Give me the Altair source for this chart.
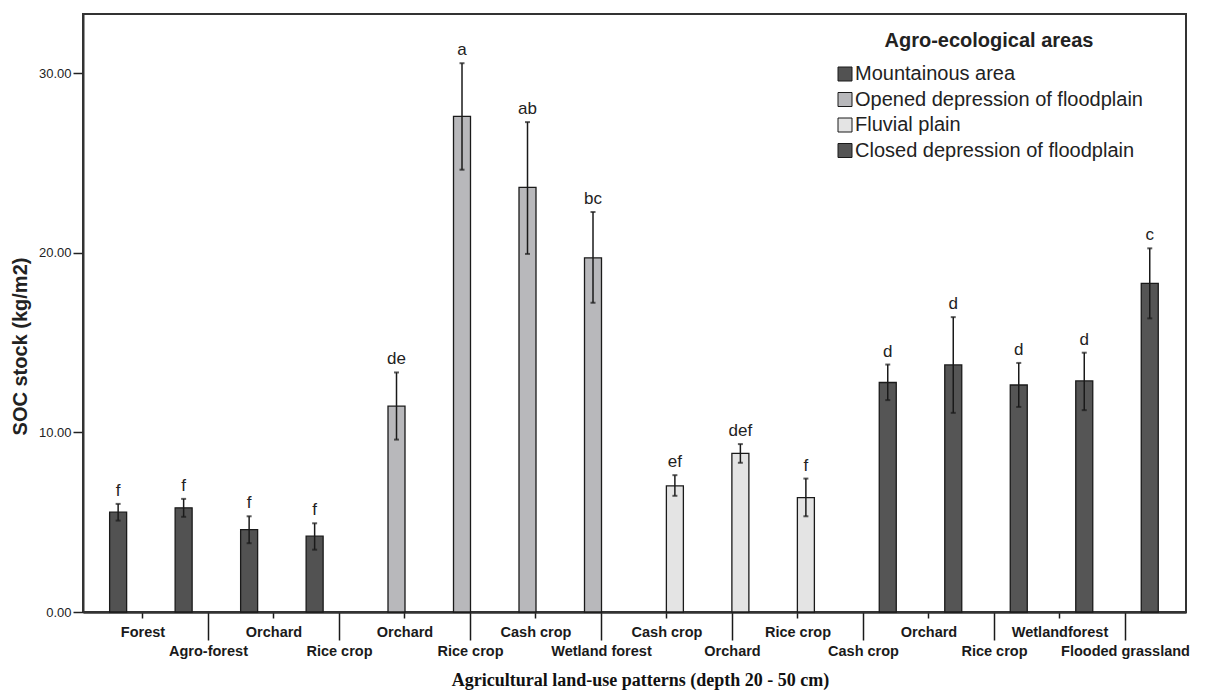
import altair as alt
import pandas as pd

# ---------------- data ----------------
areas = ["Mountainous area", "Opened depression of floodplain",
         "Fluvial plain", "Closed depression of floodplain"]
area_sizes = [4, 4, 3, 5]
land_uses = ["Forest", "Agro-forest", "Orchard", "Rice crop",
             "Orchard", "Rice crop", "Cash crop", "Wetland forest",
             "Cash crop", "Orchard", "Rice crop",
             "Cash crop", "Orchard", "Rice crop", "Wetlandforest", "Flooded grassland"]
soc_mean = [5.56, 5.80, 4.59, 4.22,
            11.46, 27.60, 23.65, 19.72,
            7.02, 8.83, 6.37,
            12.78, 13.76, 12.64, 12.87, 18.30]
err_low = [5.09, 5.30, 3.83, 3.47,
           9.60, 24.63, 19.94, 17.22,
           6.47, 8.31, 5.33,
           11.80, 11.09, 11.42, 11.24, 16.35]
err_high = [6.02, 6.30, 5.33, 4.94,
            13.34, 30.56, 27.28, 22.28,
            7.62, 9.35, 7.43,
            13.78, 16.42, 13.87, 14.44, 20.25]
letters = ["f", "f", "f", "f",
           "de", "a", "ab", "bc",
           "ef", "def", "f",
           "d", "d", "d", "d", "c"]
area_colors = ["#525252", "#b8b8bb", "#e4e4e4", "#555555"]

GROUP_GAP = 0.25      # extra space between agro-ecological groups (in bar slots)
LABEL_SHIFT = 0.372   # SPSS places the category labels slightly right of the bars

rows = []
n = 0
for g, (area, count) in enumerate(zip(areas, area_sizes)):
    for _ in range(count):
        rows.append(dict(area=area, land_use=land_uses[n], pos=n + GROUP_GAP * g,
                         mean=soc_mean[n], lo=err_low[n], hi=err_high[n],
                         letter=letters[n]))
        n += 1
df = pd.DataFrame(rows)

label_array = "[" + ",".join("'" + s + "'" for s in land_uses) + "]"
label_expr = label_array + "[round(datum.value - %s)]" % LABEL_SHIFT
even_vals = [k + LABEL_SHIFT for k in range(0, len(land_uses), 2)]
odd_vals = [k + LABEL_SHIFT for k in range(1, len(land_uses), 2)]

xscale = alt.Scale(domain=[-0.46, 16.227], nice=False, zero=False)
yscale = alt.Scale(domain=[0, 33.3], nice=False)
YTITLE = "SOC stock (kg/m2)"
SANS = "Liberation Sans"

y_axis = alt.Axis(values=[0, 10, 20, 30], format=".2f", grid=False,
                  labelFont=SANS, labelFontSize=13, labelColor="#222",
                  labelPadding=2, tickSize=10, tickWidth=1.5, tickColor="#222",
                  domainColor="#333", domainWidth=2,
                  title=YTITLE, titleFont=SANS, titleFontSize=20,
                  titleFontWeight="bold", titleColor="#222",
                  titleAngle=270, titleAlign="center", titleBaseline="middle",
                  titleX=-63, titleY=332)

common_x_axis = dict(orient="bottom", grid=False, labelExpr=label_expr,
                     labelFont=SANS, labelFontSize=14.5, labelFontWeight="bold",
                     labelColor="#1a1a1a", labelOverlap=False, labelFlush=False,
                     labelBound=False, tickColor="#1a1a1a", tickWidth=1.5,
                     domainColor="#333", domainWidth=2)

x_axis_even = alt.Axis(values=even_vals, tickSize=6, labelPadding=7,
                       title=None, **common_x_axis)
x_axis_odd = alt.Axis(values=odd_vals, tickSize=28, labelPadding=4.5,
                      title="Agricultural land-use patterns (depth 20 - 50 cm)",
                      titleFont="Liberation Serif", titleFontSize=18,
                      titleFontWeight="bold", titleColor="#111",
                      titleAlign="center", titleBaseline="alphabetic",
                      titleX=557, titleY=73, **common_x_axis)

base = alt.Chart(df)

bars = base.mark_bar(size=17, stroke="#1a1a1a", strokeWidth=1.3).encode(
    x=alt.X("pos:Q", scale=xscale, axis=x_axis_even),
    y=alt.Y("mean:Q", scale=yscale, axis=y_axis, title=YTITLE),
    color=alt.Color("area:N", scale=alt.Scale(domain=areas, range=area_colors),
                    legend=alt.Legend(orient="none", legendX=752, legendY=17,
                                      title="Agro-ecological areas",
                                      titleFont=SANS, titleFontSize=20,
                                      titleFontWeight="bold", titleColor="#222",
                                      titleAnchor="middle", titlePadding=13,
                                      titleLimit=0, labelLimit=0,
                                      labelFont=SANS, labelFontSize=20,
                                      labelColor="#222", labelOffset=0,
                                      symbolType="square", symbolSize=196,
                                      symbolStrokeColor="#1a1a1a",
                                      symbolStrokeWidth=1, symbolOpacity=1,
                                      rowPadding=5.5, padding=0)),
)

err = base.mark_rule(color="#1a1a1a", strokeWidth=1.5).encode(
    x=alt.X("pos:Q", scale=xscale, axis=x_axis_odd),
    y=alt.Y("lo:Q", scale=yscale, title=YTITLE),
    y2="hi:Q",
)

cap_hi = base.mark_tick(orient="horizontal", size=5, thickness=2, color="#1a1a1a").encode(
    x=alt.X("pos:Q", scale=xscale, axis=None),
    y=alt.Y("hi:Q", scale=yscale, title=YTITLE),
)
cap_lo = base.mark_tick(orient="horizontal", size=5, thickness=2, color="#1a1a1a").encode(
    x=alt.X("pos:Q", scale=xscale, axis=None),
    y=alt.Y("lo:Q", scale=yscale, title=YTITLE),
)

txt = base.mark_text(font=SANS, fontSize=17, color="#222", baseline="bottom", dy=-4).encode(
    x=alt.X("pos:Q", scale=xscale, axis=None),
    y=alt.Y("hi:Q", scale=yscale, title=YTITLE),
    text="letter:N",
)

chart = alt.layer(bars, err, cap_hi, cap_lo, txt).resolve_axis(x="independent").properties(
    width=1103, height=598,
    autosize=alt.AutoSizeParams(type="none"),
    padding={"left": 75, "top": 6, "right": 11, "bottom": 80},
    background="white",
).configure_view(stroke="#333", strokeWidth=2)

chart.save("out.html", embed_options={"renderer": "svg", "actions": False})
